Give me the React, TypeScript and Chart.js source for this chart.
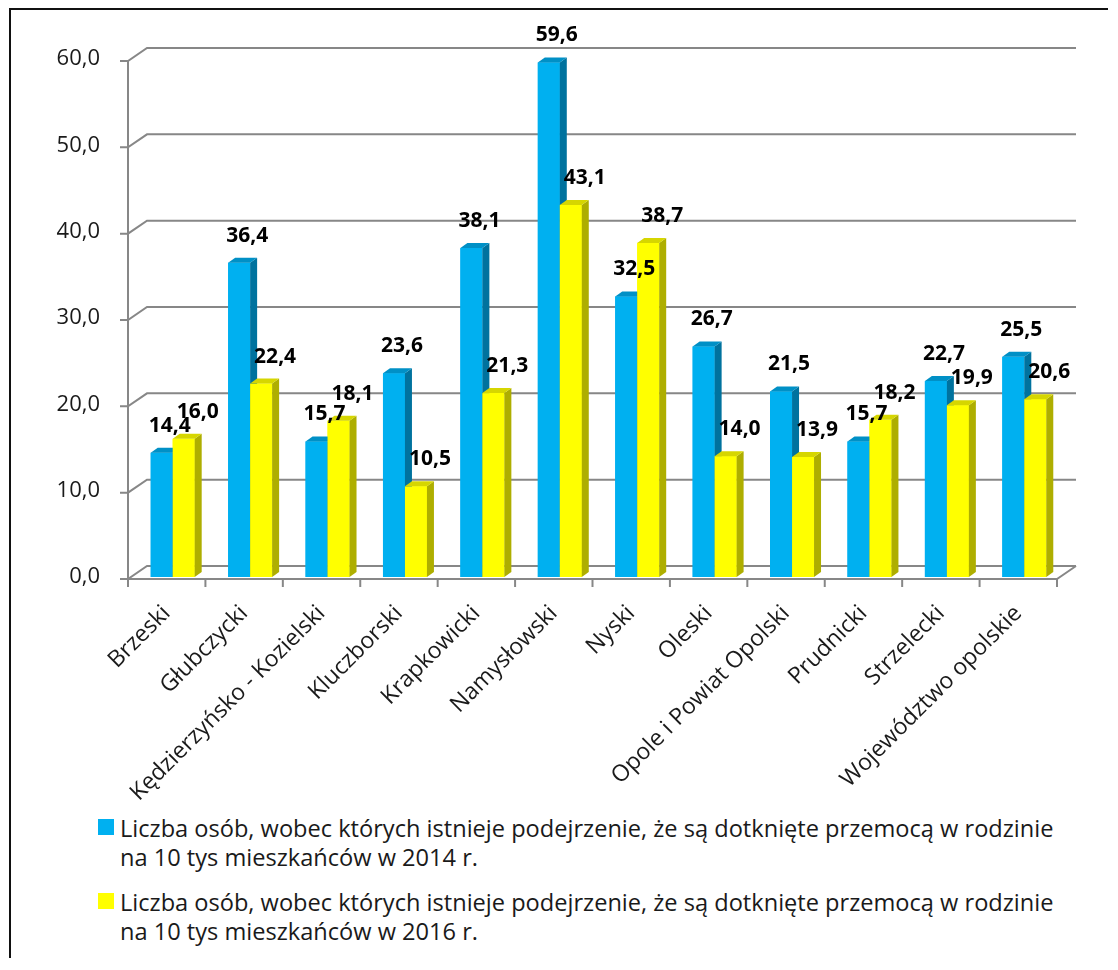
import React, { useEffect, useRef } from "react";
import { Chart, registerables } from "chart.js";

Chart.register(...registerables);

const categories = [
  "Brzeski",
  "Głubczycki",
  "Kędzierzyńsko - Kozielski",
  "Kluczborski",
  "Krapkowicki",
  "Namysłowski",
  "Nyski",
  "Oleski",
  "Opole i Powiat Opolski",
  "Prudnicki",
  "Strzelecki",
  "Województwo opolskie",
];

const values2014 = [14.4, 36.4, 15.7, 23.6, 38.1, 59.6, 32.5, 26.7, 21.5, 15.7, 22.7, 25.5];
const values2016 = [16.0, 22.4, 18.1, 10.5, 21.3, 43.1, 38.7, 14.0, 13.9, 18.2, 19.9, 20.6];

const yTicks = [0, 10, 20, 30, 40, 50, 60];

const legend2014 = [
  "Liczba osób, wobec których istnieje podejrzenie, że są dotknięte przemocą w rodzinie",
  "na 10 tys mieszkańców w 2014 r.",
];
const legend2016 = [
  "Liczba osób, wobec których istnieje podejrzenie, że są dotknięte przemocą w rodzinie",
  "na 10 tys mieszkańców w 2016 r.",
];

const BLUE = { front: "#00B0F0", side: "#00729E", top: "#0090C6" };
const YELLOW = { front: "#FFFF00", side: "#AEAE00", top: "#D6D600" };

const FRONT_SHIFT = 6;
const WALL_DX = 19;
const WALL_DY = -13;
const BAR_DX = 7;
const BAR_DY = -5;
const GRID_COLOR = "#878787";

const fmt = (v: number) => v.toFixed(1).replace(".", ",");

const frame3d = {
  id: "frame3d",
  beforeDatasetsDraw(chart: any) {
    const { ctx, chartArea, scales } = chart;
    const y = scales.y;
    const fl = chartArea.left - FRONT_SHIFT;
    const fr = chartArea.right - FRONT_SHIFT;
    ctx.save();
    ctx.strokeStyle = GRID_COLOR;
    ctx.lineWidth = 2;
    ctx.lineJoin = "miter";
    yTicks.forEach((v) => {
      const py = y.getPixelForValue(v) + 2;
      ctx.beginPath();
      ctx.moveTo(fl - 8, py);
      ctx.lineTo(fl, py);
      ctx.lineTo(fl + WALL_DX, py + WALL_DY);
      ctx.lineTo(fr + WALL_DX, py + WALL_DY);
      ctx.stroke();
    });
    const y0 = y.getPixelForValue(0) + 2;
    const yTop = y.getPixelForValue(yTicks[yTicks.length - 1]) + 2;
    ctx.beginPath();
    ctx.moveTo(fl, yTop);
    ctx.lineTo(fl, y0);
    ctx.lineTo(fr, y0);
    ctx.lineTo(fr + WALL_DX, y0 + WALL_DY);
    ctx.stroke();
    const n = categories.length;
    const w = (fr - fl) / n;
    for (let k = 0; k <= n; k++) {
      ctx.beginPath();
      ctx.moveTo(fl + k * w, y0);
      ctx.lineTo(fl + k * w, y0 + 8);
      ctx.stroke();
    }
    ctx.restore();
  },
  afterDatasetsDraw(chart: any) {
    const { ctx } = chart;
    const metas = [chart.getDatasetMeta(0), chart.getDatasetMeta(1)];
    const colors = [BLUE, YELLOW];
    ctx.save();
    for (let i = 0; i < categories.length; i++) {
      metas.forEach((meta, d) => {
        const el = meta.data[i];
        if (!el) return;
        const { x, y, width, base } = el.getProps(["x", "y", "width", "base"], true);
        const l = x - width / 2;
        const r = x + width / 2;
        const c = colors[d];
        ctx.fillStyle = c.front;
        ctx.fillRect(l, y, width, base - y);
        ctx.fillStyle = c.side;
        ctx.beginPath();
        ctx.moveTo(r, y);
        ctx.lineTo(r + BAR_DX, y + BAR_DY);
        ctx.lineTo(r + BAR_DX, base + BAR_DY);
        ctx.lineTo(r, base);
        ctx.closePath();
        ctx.fill();
        ctx.fillStyle = c.top;
        ctx.beginPath();
        ctx.moveTo(l, y);
        ctx.lineTo(l + BAR_DX, y + BAR_DY);
        ctx.lineTo(r + BAR_DX, y + BAR_DY);
        ctx.lineTo(r, y);
        ctx.closePath();
        ctx.fill();
      });
    }
    ctx.font = "bold 21px 'Open Sans'";
    ctx.fillStyle = "#000";
    ctx.textAlign = "center";
    ctx.textBaseline = "middle";
    const offs = [8, 14];
    metas.forEach((meta, d) => {
      const vals = chart.data.datasets[d].data;
      meta.data.forEach((el: any, i: number) => {
        const { x, y } = el.getProps(["x", "y"], true);
        ctx.fillText(fmt(vals[i]), x + offs[d], y - 27);
      });
    });
    ctx.restore();
  },
};

function LegendEntry({ color, lines, top }: { color: string; lines: string[]; top: number }) {
  return (
    <div style={{ position: "absolute", left: 90, top, display: "flex", alignItems: "flex-start" }}>
      <div style={{ width: 16, height: 16, background: color, marginTop: 5, marginRight: 6, flex: "none" }} />
      <div
        style={{
          fontFamily: "'Open Sans', sans-serif",
          fontSize: 23.6,
          lineHeight: "29px",
          color: "#1a1a1a",
          whiteSpace: "nowrap",
        }}
      >
        {lines.map((t, k) => (
          <div key={k}>{t}</div>
        ))}
      </div>
    </div>
  );
}

export default function App() {
  const ref = useRef<HTMLCanvasElement | null>(null);

  useEffect(() => {
    if (!ref.current) return;
    const chart = new Chart(ref.current, {
      type: "bar",
      data: {
        labels: categories,
        datasets: [
          { label: legend2014.join(" "), data: values2014, backgroundColor: BLUE.front },
          { label: legend2016.join(" "), data: values2016, backgroundColor: YELLOW.front },
        ],
      },
      options: {
        responsive: false,
        animation: false,
        layout: { padding: { top: 51, right: 45, bottom: 0, left: 0 } },
        datasets: { bar: { categoryPercentage: 0.568, barPercentage: 1, borderWidth: 0 } },
        plugins: { legend: { display: false }, tooltip: { enabled: false } },
        scales: {
          x: {
            grid: { display: false },
            border: { display: false },
            ticks: {
              autoSkip: false,
              maxRotation: 45,
              minRotation: 45,
              padding: 15,
              labelOffset: -6,
              color: "#1a1a1a",
              font: { family: "'Open Sans'", size: 23 },
            },
            afterFit: (s: any) => {
              s.height = 231;
            },
          },
          y: {
            min: 0,
            max: 60,
            grid: { display: false },
            border: { display: false },
            ticks: {
              stepSize: 10,
              padding: 26,
              color: "#1a1a1a",
              font: { family: "'Open Sans'", size: 22 },
              callback: (v: any) => fmt(Number(v)),
            },
            afterFit: (s: any) => {
              s.width = 126;
            },
          },
        },
      },
      plugins: [frame3d],
    });
    return () => chart.destroy();
  }, []);

  return (
    <div style={{ position: "relative", width: 1100, height: 950, overflow: "hidden", background: "#fff" }}>
      <div
        style={{
          position: "absolute",
          left: 1,
          top: 0,
          width: 1200,
          height: 1100,
          borderLeft: "2px solid #111",
          borderTop: "2px solid #111",
          boxSizing: "border-box",
        }}
      />
      <canvas ref={ref} width={1100} height={800} style={{ position: "absolute", left: 0, top: 0 }} />
      <LegendEntry color={BLUE.front} lines={legend2014} top={806} />
      <LegendEntry color={YELLOW.front} lines={legend2016} top={880} />
    </div>
  );
}
